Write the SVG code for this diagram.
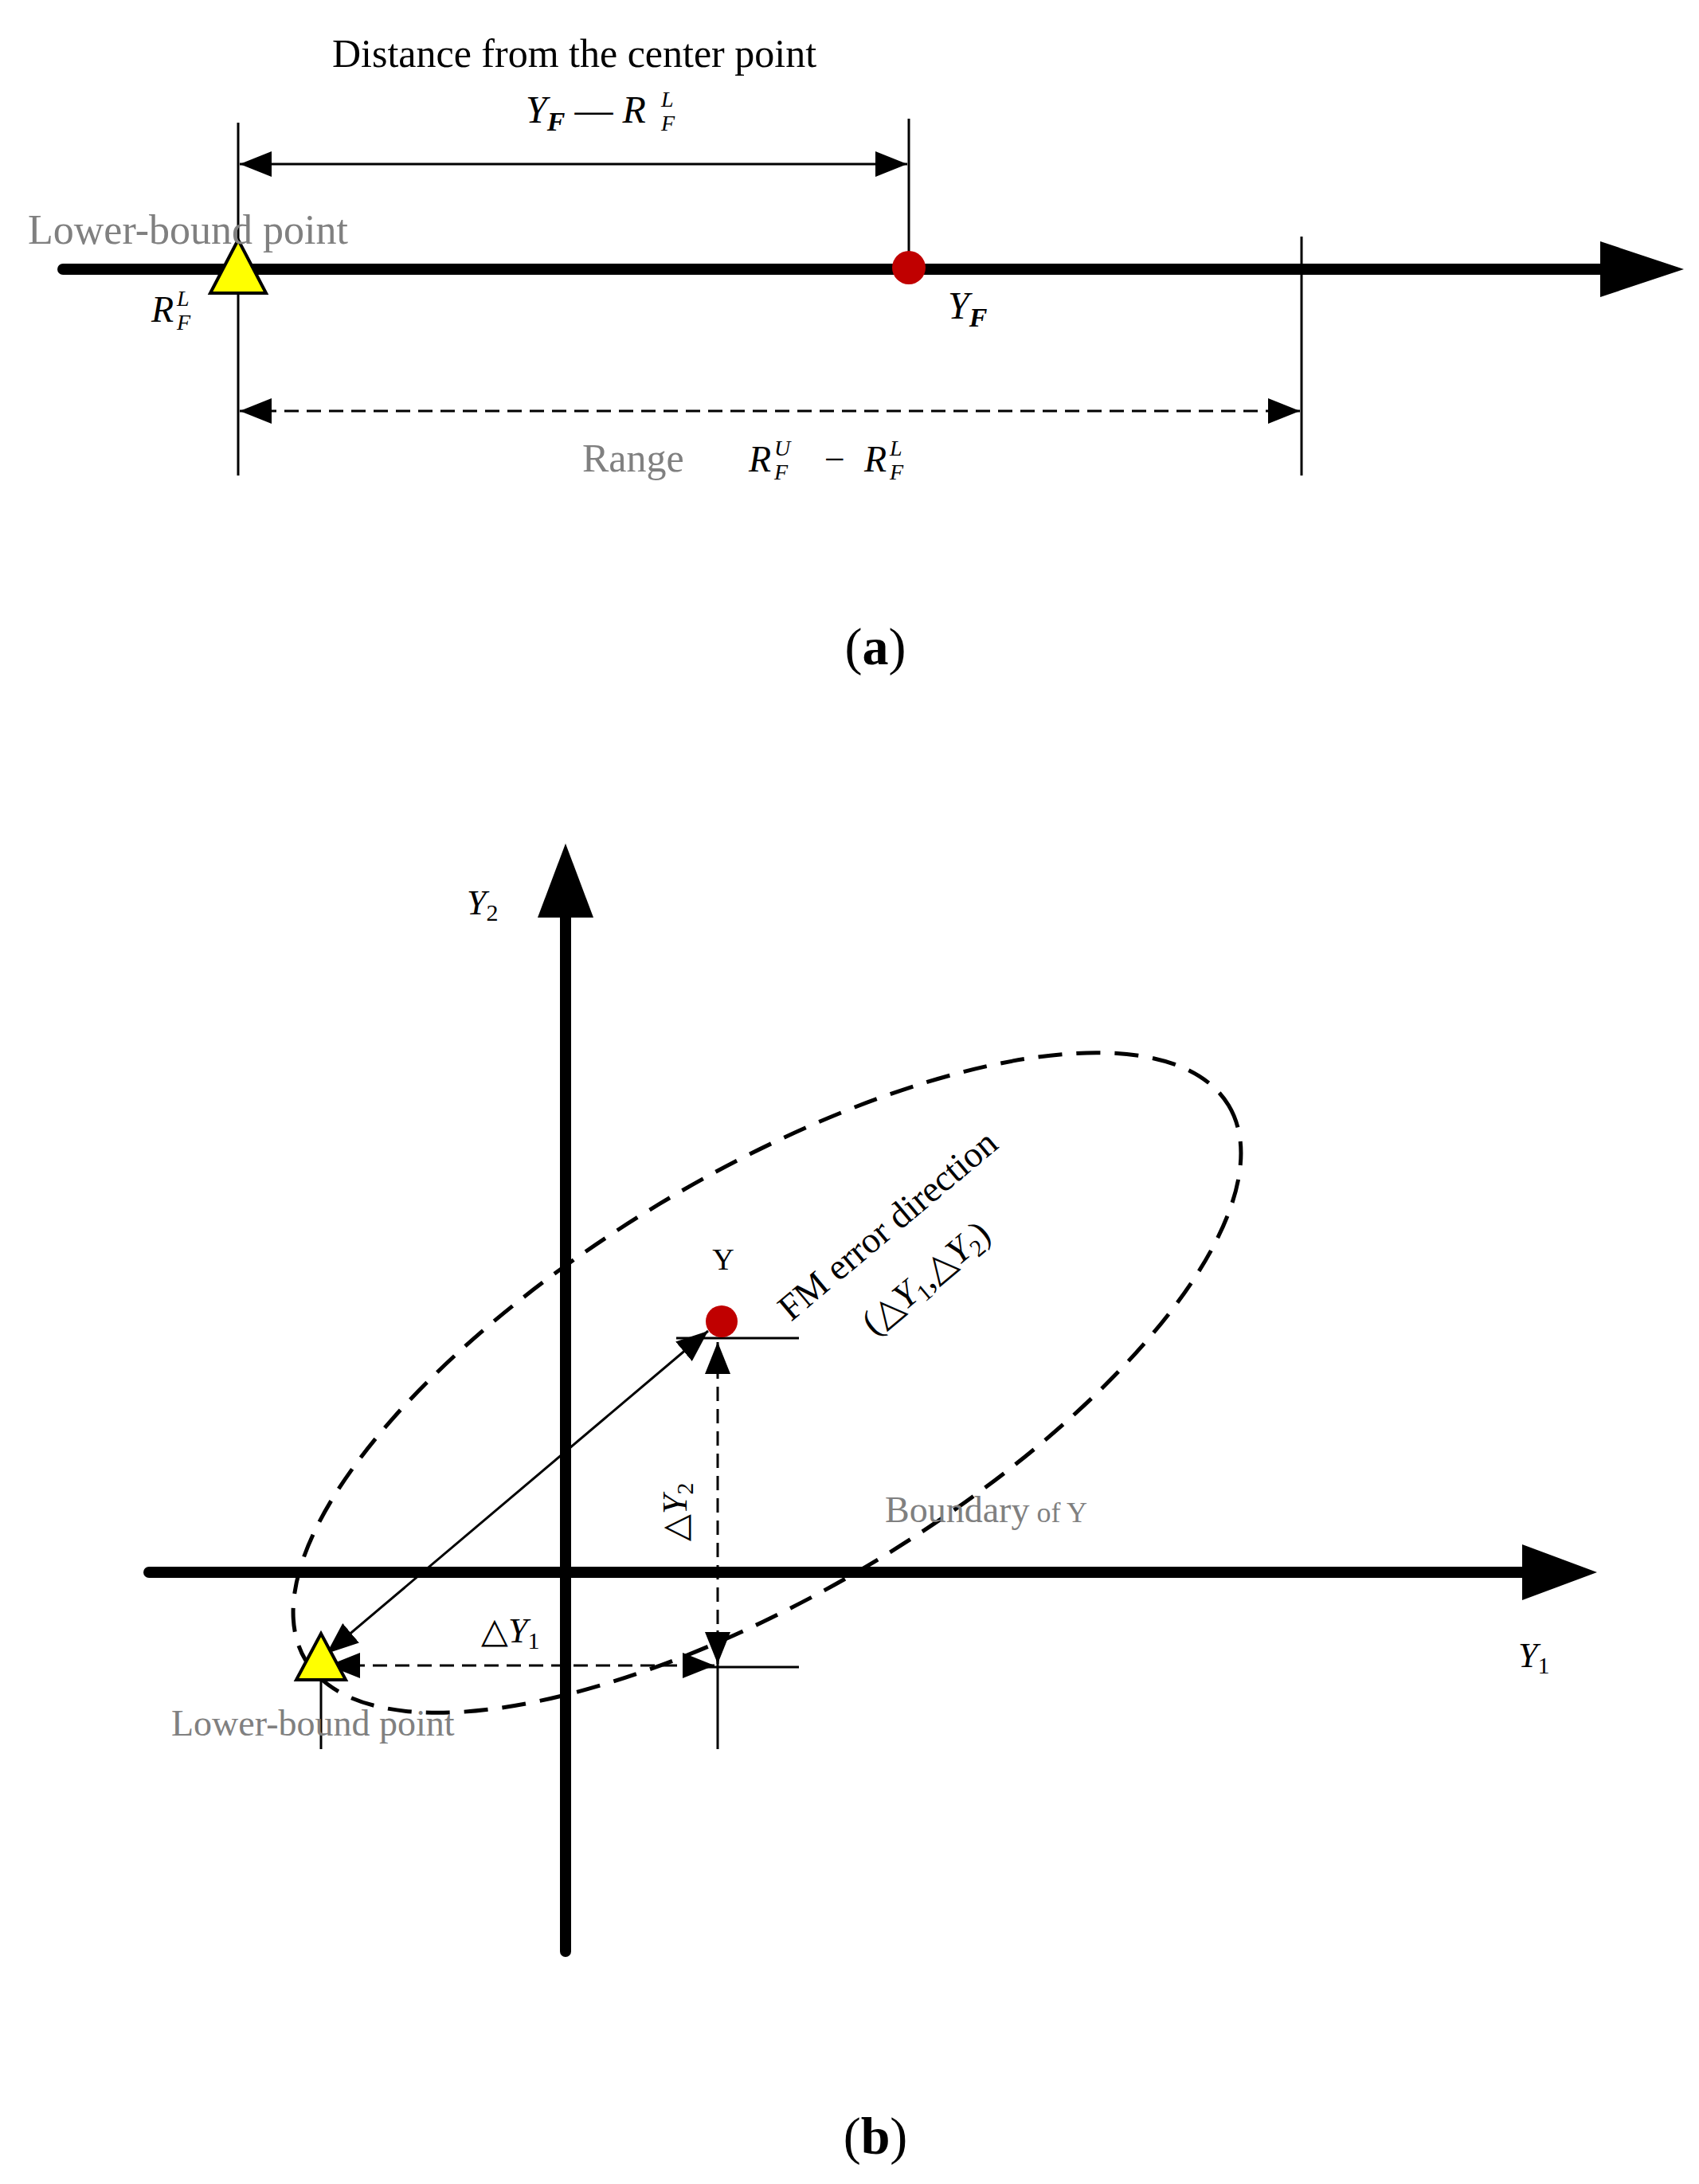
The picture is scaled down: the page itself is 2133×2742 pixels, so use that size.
<svg xmlns="http://www.w3.org/2000/svg" width="2133" height="2742" viewBox="0 0 2133 2742">
<style>
text{font-family:"Liberation Serif","Times New Roman",serif;fill:#000}
.g{fill:#808080}
.it{font-style:italic}
.thin{stroke:#000;stroke-width:3;fill:none}
.dash{stroke:#000;stroke-width:3;fill:none;stroke-dasharray:18 10}
.axis{stroke:#000;stroke-width:14;stroke-linecap:round;fill:none}
</style>
<defs>
<marker id="ah" markerWidth="10" markerHeight="8" refX="10" refY="4" orient="auto-start-reverse" markerUnits="userSpaceOnUse" viewBox="0 0 10 8">
<path d="M0,0 L10,4 L0,8 Z" fill="#000"/>
</marker>
<marker id="ahs" viewBox="0 0 10 8" refX="10" refY="4" markerWidth="40" markerHeight="32" orient="auto-start-reverse" markerUnits="userSpaceOnUse">
<path d="M0,0 L10,4 L0,8 Z" fill="#000"/>
</marker>
</defs>
<rect width="2133" height="2742" fill="#fff"/>
<g id="connectors">
<!-- part a -->
<line class="thin" x1="299" y1="154" x2="299" y2="597"/>
<line class="thin" x1="1141" y1="149" x2="1141" y2="332"/>
<line class="thin" x1="1634" y1="297" x2="1634" y2="597"/>
<line class="thin" x1="301" y1="206" x2="1139" y2="206" marker-start="url(#ahs)" marker-end="url(#ahs)"/>
<line class="dash" x1="301" y1="516" x2="1632" y2="516" marker-start="url(#ahs)" marker-end="url(#ahs)"/>
<line class="axis" x1="79" y1="338" x2="2015" y2="338"/>
<path d="M2009,303 L2114,338 L2009,373 Z" fill="#000"/>
<!-- part b -->
<line class="axis" x1="710" y1="2450" x2="710" y2="1140"/>
<path d="M675,1152 L710,1059 L745,1152 Z" fill="#000"/>
<line class="axis" x1="187" y1="1974" x2="1920" y2="1974"/>
<path d="M1911,1939 L2005,1974 L1911,2009 Z" fill="#000"/>
<ellipse class="dash" cx="963" cy="1736" rx="676" ry="262" transform="rotate(-31 963 1736)" style="stroke-width:5;stroke-dasharray:30 18"/>
<line class="thin" x1="849" y1="1680" x2="1003" y2="1680"/>
<line class="thin" x1="875" y1="2093" x2="1003" y2="2093"/>
<line class="thin" x1="901" y1="2047" x2="901" y2="2196"/>
<line class="thin" x1="403" y1="2060" x2="403" y2="2196"/>
<line class="thin" x1="410" y1="2076" x2="889" y2="1671" marker-start="url(#ahs)" marker-end="url(#ahs)"/>
<line class="dash" x1="901" y1="1685" x2="901" y2="2089" marker-start="url(#ahs)" marker-end="url(#ahs)"/>
<line class="dash" x1="412" y1="2091" x2="897" y2="2091" marker-start="url(#ahs)" marker-end="url(#ahs)"/>
</g>
<g id="nodes-a">
<polygon points="299,301 264,368 334,368" fill="#ffff00" stroke="#000" stroke-width="4"/>
<circle cx="1141" cy="336" r="21" fill="#c00000"/>
<text x="721" y="84" font-size="50" text-anchor="middle">Distance from the center point</text>
<text x="660" y="154" font-size="48" class="it">Y<tspan font-size="34" font-weight="bold" dy="10">F</tspan><tspan dy="-10" class="" font-style="normal"> —  </tspan>R<tspan font-size="28" dy="10" x="830">F</tspan><tspan font-size="28" dy="-30" x="830">L</tspan></text>
<text x="35" y="306" font-size="52" class="g">Lower-bound point</text>
<text x="190" y="404" font-size="46" class="it" fill="#333">R<tspan font-size="28" dy="10" x="222">F</tspan><tspan font-size="28" dy="-30" x="222">L</tspan></text>
<text x="1190" y="400" font-size="48" class="it">Y<tspan font-size="34" font-weight="bold" dy="10">F</tspan></text>
<text x="731" y="592" font-size="50" class="g">Range</text>
<text x="940" y="592" font-size="46" class="it">R<tspan font-size="28" dy="10" x="972">F</tspan><tspan font-size="28" dy="-30" x="972">U</tspan><tspan dy="20" x="1035" font-style="normal">−</tspan><tspan x="1085">R</tspan><tspan font-size="28" dy="10" x="1117">F</tspan><tspan font-size="28" dy="-30" x="1117">L</tspan></text>
<text x="1099" y="834" font-size="66" text-anchor="middle">(<tspan font-weight="bold">a</tspan>)</text>
</g>
<g id="nodes-b">
<polygon points="403,2051 372,2109 434,2109" fill="#ffff00" stroke="#000" stroke-width="4"/>
<circle cx="906" cy="1659" r="20" fill="#c00000"/>
<text x="586" y="1148" font-size="44" class="it">Y<tspan font-size="30" font-style="normal" dy="8">2</tspan></text>
<text x="1906" y="2093" font-size="44" class="it">Y<tspan font-size="30" font-style="normal" dy="8">1</tspan></text>
<text x="908" y="1594" font-size="38" text-anchor="middle">Y</text>
<text x="604" y="2062" font-size="44">△<tspan class="it">Y</tspan><tspan font-size="30" dy="8">1</tspan></text>
<text transform="translate(862,1935) rotate(-90)" font-size="44">△<tspan class="it">Y</tspan><tspan font-size="30" dy="8">2</tspan></text>
<text x="1111" y="1911" font-size="46" class="g">Boundary<tspan font-size="36"> of Y</tspan></text>
<text x="215" y="2179" font-size="46" class="g">Lower-bound point</text>
<text transform="translate(993,1660) rotate(-40)" font-size="46">FM error direction</text>
<text transform="translate(1098,1678) rotate(-40)" font-size="46">(△<tspan class="it">Y</tspan><tspan font-size="30" dy="8">1</tspan><tspan dy="-8">,△</tspan><tspan class="it">Y</tspan><tspan font-size="30" dy="8">2</tspan><tspan dy="-8">)</tspan></text>
<text x="1099" y="2704" font-size="66" text-anchor="middle">(<tspan font-weight="bold">b</tspan>)</text>
</g>
</svg>
